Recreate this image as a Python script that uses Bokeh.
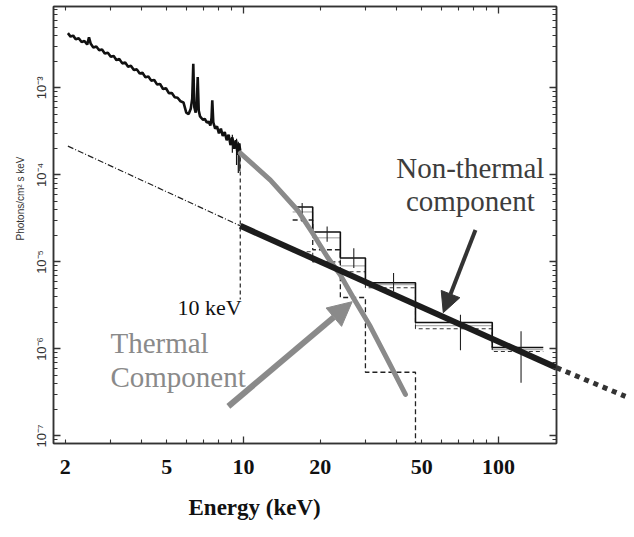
import math
from bokeh.plotting import figure
from bokeh.models import (Range1d, LogAxis, FixedTicker, CustomJSTickFormatter,
                          Label, Arrow, NormalHead, Title)
from bokeh.embed import file_html
from bokeh.resources import INLINE

# ---------------- data ----------------
# observed low-energy spectrum (keV, photons/cm2/s/keV in units of 1e-3)
spec_energy = [2.05, 2.10, 2.15, 2.20, 2.26, 2.32, 2.38, 2.44, 2.48, 2.52, 2.58, 2.65,
               2.72, 2.79, 2.86, 2.94, 3.02, 3.10, 3.18, 3.26, 3.35, 3.44, 3.53, 3.62,
               3.72, 3.82, 3.92, 4.02, 4.13, 4.24, 4.35, 4.47, 4.59, 4.71, 4.84, 4.97,
               5.10, 5.24, 5.38, 5.52, 5.67, 5.82, 5.97, 6.10, 6.22, 6.30, 6.36, 6.42,
               6.50, 6.57, 6.62, 6.68, 6.76, 6.85, 6.95, 7.06, 7.18, 7.30, 7.42, 7.50,
               7.55, 7.62, 7.75, 7.88, 8.02, 8.16, 8.30, 8.45, 8.60, 8.75, 8.90, 9.05,
               9.20, 9.35, 9.50, 9.62, 9.72]
spec_flux_e3 = [4.25, 3.88, 3.98, 3.62, 3.72, 3.36, 3.46, 3.14, 3.80, 3.20, 2.90, 2.98,
                2.70, 2.76, 2.48, 2.53, 2.27, 2.32, 2.08, 2.14, 1.91, 1.95, 1.75, 1.79,
                1.60, 1.63, 1.46, 1.49, 1.32, 1.35, 1.21, 1.23, 1.09, 1.11, 0.97, 0.99,
                0.87, 0.87, 0.78, 0.77, 0.70, 0.68, 0.52, 0.50, 0.58, 0.75, 1.89, 0.60,
                0.52, 0.70, 1.33, 0.55, 0.47, 0.45, 0.43, 0.44, 0.40, 0.41, 0.37, 0.45,
                0.72, 0.40, 0.34, 0.36, 0.30, 0.34, 0.28, 0.31, 0.25, 0.29, 0.22, 0.27,
                0.20, 0.25, 0.17, 0.23, 0.19]
spec_err_energy = [9.05, 9.40, 9.55, 9.68]
spec_err_low = [1.8e-4, 1.3e-4, 1.05e-4, 1.1e-4]
spec_err_high = [2.9e-4, 2.6e-4, 2.4e-4, 2.3e-4]

# non-thermal power law: extrapolated (dash-dot), fitted (thick), beyond range (dotted)
nt_ext_energy = [2.05, 9.72]
nt_ext_flux = [2.14e-4, 2.6e-5]
nt_energy = [9.72, 169.0]
nt_flux = [2.6e-5, 6.1e-7]
nt_beyond_energy = [169.0, 315.0]
nt_beyond_flux = [6.1e-7, 2.85e-7]

# thermal component model curve
th_energy = [9.73, 12.76, 16.28, 18.66, 21.35, 23.99, 26.98, 31.47, 36.7, 43.2]
th_flux = [1.78e-4, 8.7e-5, 3.95e-5, 2.15e-5, 1.14e-5, 7.1e-6, 3.88e-6, 1.81e-6, 7.6e-7, 3.0e-7]

# hard X-ray bins
bin_edges = [15.6, 18.7, 24.0, 30.1, 47.3, 94.6, 150.0]
data_flux = [4.28e-5, 2.21e-5, 1.11e-5, 5.77e-6, 2.01e-6, 1.04e-6]
model_total_flux = [3.75e-5, 1.89e-5, 9.0e-6, 5.47e-6, 1.85e-6, 9.8e-7]
model_nt_flux = [1.31e-5, 1.00e-5, 7.7e-6, 5.05e-6, 1.71e-6, 9.35e-7]
model_th_flux = [3.03e-5, 1.38e-5, 3.9e-6, 5.4e-7, 1.0e-9]
err_energy = [17.0, 21.3, 27.1, 38.8, 71.0, 122.7]
err_high = [4.75e-5, 2.55e-5, 1.44e-5, 7.45e-6, 2.48e-6, 1.60e-6]
err_low = [2.88e-5, 1.71e-5, 8.5e-6, 4.58e-6, 9.66e-7, 4.09e-7]

# 10 keV marker
marker_energy = [9.72, 9.72]
marker_flux = [1.9e-4, 3.7e-6]

# annotation arrows (energy, flux)
th_arrow = [8.73, 2.19e-7, 26.7, 3.49e-6]
nt_arrow = [81.3, 2.33e-5, 60.8, 2.61e-6]

# axes
x_tick_values = [2, 5, 10, 20, 50, 100]
x_tick_labels = ["2", "5", "10", "20", "50", "100"]
x_major = [10, 100]
x_minor = [2, 3, 4, 5, 6, 7, 8, 9, 20, 30, 40, 50, 60, 70, 80, 90]
y_ticks = [1e-7, 1e-6, 1e-5, 1e-4, 1e-3]
y_tick_labels = ["10\u207b\u2077", "10\u207b\u2076", "10\u207b\u2075", "10\u207b\u2074", "10\u207b\u00b3"]
y_minor = [k * 10.0 ** e for e in range(-8, -2) for k in range(2, 10)]


def step_path(edges, vals):
    xs, ys = [], []
    for i, v in enumerate(vals):
        xs += [edges[i], edges[i + 1]]
        ys += [v, v]
    return xs, ys


# ---------------- figure ----------------
AX = "#333333"
p = figure(width=634, height=537, x_axis_type="log", y_axis_type="log",
           x_range=Range1d(1.8, 169), y_range=Range1d(8.2e-8, 8.6e-3),
           output_backend="svg", toolbar_location=None,
           min_border_left=53, min_border_right=78, min_border_top=6, min_border_bottom=94)
p.xgrid.visible = False
p.ygrid.visible = False
p.outline_line_color = AX
p.outline_line_width = 1.5
p.background_fill_color = "white"
p.border_fill_color = "white"

blank = CustomJSTickFormatter(code="return ' ';")


def style_ticks(ax, major, minor, maj_len, min_len, labels=False):
    ax.ticker = FixedTicker(ticks=major, minor_ticks=minor)
    ax.major_tick_in = maj_len
    ax.major_tick_out = 0
    ax.minor_tick_in = min_len
    ax.minor_tick_out = 0
    ax.major_tick_line_color = AX
    ax.minor_tick_line_color = AX
    ax.major_tick_line_width = 1.3
    ax.minor_tick_line_width = 1.1
    ax.axis_line_color = AX
    ax.axis_line_width = 1.5
    if not labels:
        ax.formatter = blank
        ax.major_label_text_font_size = "2px"
        ax.major_label_text_color = "white"
        ax.major_label_standoff = 0


fmt_code = """
let best = 0, bd = Infinity;
for (let i = 0; i < tvals.length; i++) {
  const d = Math.abs(Math.log10(tvals[i]) - Math.log10(tick));
  if (d < bd) { bd = d; best = i; }
}
return tlabs[best];
"""

# bottom ticks
bx = p.xaxis[0]
style_ticks(bx, x_major, x_minor, 7, 4)

# bottom labels (separate axis)
bl = LogAxis(ticker=FixedTicker(ticks=x_tick_values),
             formatter=CustomJSTickFormatter(args=dict(tvals=x_tick_values, tlabs=x_tick_labels), code=fmt_code))
bl.axis_line_color = None
bl.major_tick_line_color = None
bl.minor_tick_line_color = None
bl.major_tick_in = 0
bl.major_tick_out = 0
bl.minor_tick_out = 0
bl.major_label_standoff = 11
bl.major_label_text_font = "Liberation Serif"
bl.major_label_text_font_style = "bold"
bl.major_label_text_font_size = "22px"
bl.major_label_text_color = "#111111"
p.add_layout(bl, "below")

# x title
p.add_layout(Title(text="Energy (keV)", align="left", offset=135, standoff=33,
                   text_font="Liberation Serif", text_font_style="bold",
                   text_font_size="23px", text_color="#111111"), "below")

# top
tx = LogAxis()
style_ticks(tx, x_major, x_minor, 7, 4)
p.add_layout(tx, "above")

# left
ly = p.yaxis[0]
style_ticks(ly, y_ticks, y_minor, 7, 4, labels=True)
ly.formatter = CustomJSTickFormatter(args=dict(tvals=y_ticks, tlabs=y_tick_labels), code=fmt_code)
ly.major_label_orientation = "vertical"
ly.major_label_text_font = "Liberation Sans"
ly.major_label_text_font_size = "13px"
ly.major_label_text_color = "#333333"
ly.major_label_standoff = 4

# y title
p.add_layout(Title(text="Photons/cm\u00b2 s keV", align="left", offset=203, standoff=12,
                   text_font="Liberation Sans", text_font_style="normal",
                   text_font_size="10px", text_color="#333333"), "left")

# right
ry = LogAxis()
style_ticks(ry, y_ticks, y_minor, 7, 4)
p.add_layout(ry, "right")

# ---------------- glyphs ----------------
BLACK = "#1c1c1c"
GRAY = "#8a8a8a"

# dash-dot extrapolation
p.line(nt_ext_energy, nt_ext_flux, line_width=1.2, line_dash="6 2 1 2", color="#222222")

# spectrum
spec_flux = [v * 1e-3 for v in spec_flux_e3]
p.line(spec_energy, spec_flux, line_width=2.6, color="#111111")
p.segment(spec_err_energy, spec_err_low, spec_err_energy, spec_err_high, line_width=1.2, color="#111111")

# 10 keV marker
p.line(marker_energy, marker_flux, line_width=1.2, line_dash="4 3", color="#222222")

# histograms
xs, ys = step_path(bin_edges, model_total_flux)
p.line(xs, ys, line_width=1.0, color="#9a9a9a")
xs, ys = step_path(bin_edges, model_nt_flux)
p.line(xs, ys, line_width=1.1, line_dash="4 3", color="#333333")
xs, ys = step_path(bin_edges[:len(model_th_flux) + 1], model_th_flux)
p.line(xs, ys, line_width=1.3, line_dash="5 3", color="#222222")
xs, ys = step_path(bin_edges, data_flux)
p.line(xs, ys, line_width=1.6, color="#111111")
p.segment(err_energy, err_low, err_energy, err_high, line_width=1.1, color="#222222")

# thermal curve
p.line(th_energy, th_flux, line_width=5, color=GRAY, line_cap="round")

# non-thermal fit
p.line(nt_energy, nt_flux, line_width=6, color=BLACK)

# dotted continuation beyond plotted range (drawn on the overlay level)
p.line(nt_beyond_energy, nt_beyond_flux, line_width=5, line_dash="5 5",
       color="#333333", level="overlay")

# annotation arrows
p.add_layout(Arrow(end=NormalHead(size=24, fill_color=GRAY, line_color=GRAY),
                   x_start=th_arrow[0], y_start=th_arrow[1], x_end=th_arrow[2], y_end=th_arrow[3],
                   line_color=GRAY, line_width=6))
p.add_layout(Arrow(end=NormalHead(size=20, fill_color="#333333", line_color="#333333"),
                   x_start=nt_arrow[0], y_start=nt_arrow[1], x_end=nt_arrow[2], y_end=nt_arrow[3],
                   line_color="#333333", line_width=4))

# texts
def lab(x, y, text, size, color, align="left"):
    p.add_layout(Label(x=x, y=y, text=text, text_font="Liberation Serif", text_font_size=size,
                       text_color=color, text_align=align, text_baseline="alphabetic"))

lab(77.6, 1.20e-4, "Non-thermal", "29px", "#3d3d3d", align="center")
lab(77.6, 5.0e-5, "component", "29px", "#3d3d3d", align="center")
lab(3.01, 1.18e-6, "Thermal", "29px", GRAY)
lab(3.01, 4.7e-7, "Component", "29px", GRAY)
lab(5.51, 2.98e-6, "10 keV", "22px", "#111111")

open("out.html", "w").write(file_html(p, INLINE))
